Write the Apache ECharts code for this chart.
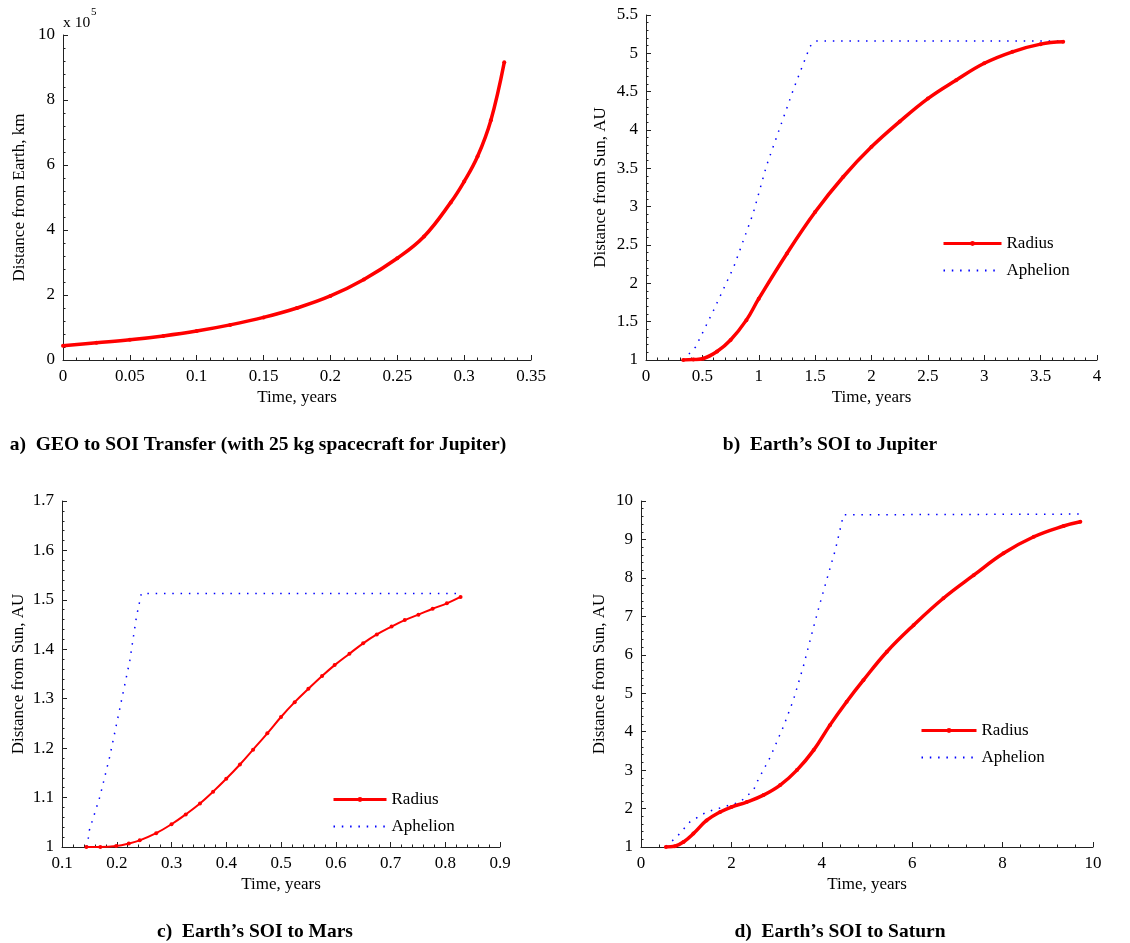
<!DOCTYPE html>
<html>
<head>
<meta charset="utf-8">
<script src="https://cdn.jsdelivr.net/npm/echarts@6/dist/echarts.min.js"></script>
<style>
  html, body { margin: 0; padding: 0; background: #fff; }
  #chart { width: 1130px; height: 943px; }
</style>
</head>
<body>
<div id="chart"></div>
<script>
// a) GEO to SOI transfer, distance from Earth in km
const geoTime = [0, 0.025, 0.05, 0.075, 0.1, 0.125, 0.15, 0.175, 0.2, 0.225, 0.25, 0.27, 0.29, 0.3, 0.31, 0.32, 0.33];
const geoDist = [44000, 53000, 62000, 74000, 89000, 108000, 131000, 160000, 197000, 248000, 313000, 380000, 485000, 549000, 626000, 738000, 916000];

// b) Earth's SOI to Jupiter, AU
const jupTime = [0.33, 0.42, 0.51, 0.63, 0.75, 0.89, 1.0, 1.25, 1.5, 1.75, 2.0, 2.25, 2.5, 2.75, 3.0, 3.25, 3.5, 3.7];
const jupRadius = [1.0, 1.005, 1.02, 1.11, 1.26, 1.52, 1.8, 2.39, 2.93, 3.39, 3.78, 4.11, 4.41, 4.65, 4.87, 5.02, 5.12, 5.15];
const jupAphTime = [0.33, 0.44, 0.6, 0.78, 0.95, 1.07, 1.19, 1.31, 1.455, 1.5, 3.7];
const jupAphelion = [1.0, 1.17, 1.65, 2.22, 2.91, 3.54, 4.04, 4.54, 5.09, 5.16, 5.16];

// c) Earth's SOI to Mars, AU
const marsTime = [0.1445, 0.17, 0.199, 0.222, 0.242, 0.272, 0.3, 0.326, 0.352, 0.376, 0.4, 0.425, 0.449, 0.475, 0.5, 0.525, 0.55, 0.575, 0.598, 0.625, 0.65, 0.675, 0.702, 0.726, 0.751, 0.777, 0.803, 0.828];
const marsRadius = [1.0, 1.0, 1.002, 1.007, 1.0135, 1.028, 1.046, 1.066, 1.088, 1.112, 1.138, 1.167, 1.197, 1.23, 1.263, 1.293, 1.32, 1.346, 1.368, 1.391, 1.412, 1.43, 1.446, 1.459, 1.47, 1.482, 1.493, 1.506];
const marsAphTime = [0.146, 0.15, 0.169, 0.187, 0.205, 0.224, 0.236, 0.245, 0.83];
const marsAphelion = [1.0, 1.034, 1.101, 1.182, 1.277, 1.378, 1.466, 1.513, 1.513];

// d) Earth's SOI to Saturn, AU
const satTime = [0.55, 0.75, 0.94, 1.16, 1.45, 1.75, 2.0, 2.34, 2.71, 3.08, 3.45, 3.82, 4.18, 4.55, 4.92, 5.44, 6.03, 6.69, 7.36, 8.02, 8.69, 9.35, 9.72];
const satRadius = [1.0, 1.02, 1.13, 1.35, 1.69, 1.91, 2.04, 2.17, 2.35, 2.61, 3.0, 3.52, 4.17, 4.78, 5.34, 6.08, 6.77, 7.47, 8.07, 8.64, 9.07, 9.35, 9.46];
const satAphTime = [0.55, 0.79, 1.08, 1.45, 1.82, 2.19, 2.49, 2.58, 2.86, 3.15, 3.37, 3.59, 3.82, 3.96, 4.15, 4.3, 4.48, 9.7];
const satAphelion = [1.02, 1.26, 1.65, 1.91, 2.04, 2.17, 2.48, 2.72, 3.34, 4.13, 4.82, 5.69, 6.73, 7.34, 8.12, 8.73, 9.64, 9.66];

const panelTitles = [
  'a)  GEO to SOI Transfer (with 25 kg spacecraft for Jupiter)',
  'b)  Earth\u2019s SOI to Jupiter',
  'c)  Earth\u2019s SOI to Mars',
  'd)  Earth\u2019s SOI to Saturn'
];

const FONT = '"Liberation Serif", "DejaVu Serif", serif';
const pairs = (xs, ys) => xs.map((x, i) => [x, ys[i]]);

function xAx(gi, min, max, interval) {
  return {
    type: 'value', gridIndex: gi, min: min, max: max, interval: interval,
    name: 'Time, years', nameLocation: 'middle', nameGap: 29,
    nameTextStyle: { fontFamily: FONT, fontSize: 17, color: '#000' },
    axisLine: { lineStyle: { color: '#222', width: 1 } },
    axisTick: { inside: true, length: 5, lineStyle: { color: '#222' } },
    minorTick: { show: true, splitNumber: 5, length: 2.5, lineStyle: { color: '#222' } },
    splitLine: { show: false },
    axisLabel: { fontFamily: FONT, fontSize: 17, color: '#000', margin: 8 }
  };
}

function yAx(gi, min, max, interval, name, gap, fmt) {
  return {
    type: 'value', gridIndex: gi, min: min, max: max, interval: interval,
    name: name, nameLocation: 'middle', nameGap: gap,
    nameTextStyle: { fontFamily: FONT, fontSize: 17, color: '#000' },
    axisLine: { show: true, lineStyle: { color: '#222', width: 1 } },
    axisTick: { show: true, inside: true, length: 5, lineStyle: { color: '#222' } },
    minorTick: { show: true, splitNumber: 5, length: 2.5, lineStyle: { color: '#222' } },
    splitLine: { show: false },
    axisLabel: { fontFamily: FONT, fontSize: 17, color: '#000', margin: 8, formatter: fmt }
  };
}

function radius(gi, data, lw, sym) {
  return {
    name: 'Radius', type: 'line', xAxisIndex: gi, yAxisIndex: gi,
    data: data, smooth: 0.4,
    symbol: 'circle', symbolSize: sym, showSymbol: true,
    itemStyle: { color: '#ff0000' },
    lineStyle: { color: '#ff0000', width: lw },
    z: 3, animation: false
  };
}

function aphelion(gi, data) {
  return {
    name: 'Aphelion', type: 'line', xAxisIndex: gi, yAxisIndex: gi,
    data: data, smooth: false, symbol: 'none',
    itemStyle: { color: '#0000ff' },
    lineStyle: { color: '#0000ff', width: 1.5, type: [1.5, 6.8] },
    z: 2, animation: false
  };
}

function legendAt(left, top, w) {
  return {
    left: left, top: top, orient: 'vertical', padding: 0,
    itemWidth: w, itemHeight: 6, itemGap: 10,
    data: [
      { name: 'Radius', lineStyle: { width: 3 } },
      { name: 'Aphelion', itemStyle: { color: 'rgba(0,0,0,0)', borderWidth: 0 } }
    ],
    textStyle: { fontFamily: FONT, fontSize: 17, color: '#000' },
    selectedMode: false
  };
}

const titlePos = [[258, 435], [830, 435], [255, 922], [840, 922]];

const chart = echarts.init(document.getElementById('chart'));
chart.setOption({
  backgroundColor: '#fff',
  animation: false,
  title: panelTitles.map((t, i) => ({
    text: t, left: titlePos[i][0], top: titlePos[i][1], textAlign: 'center', padding: 0,
    textStyle: { fontFamily: FONT, fontSize: 19.5, fontWeight: 'bold', color: '#000' }
  })),
  graphic: [
    { type: 'text', left: 63, top: 15, style: { text: 'x 10', font: '15.5px ' + FONT, fill: '#000' } },
    { type: 'text', left: 91, top: 7, style: { text: '5', font: '11px ' + FONT, fill: '#000' } }
  ],
  grid: [
    { left: 63, top: 35, width: 468, height: 325 },
    { left: 646, top: 15, width: 451, height: 345 },
    { left: 62, top: 501, width: 438, height: 346 },
    { left: 641, top: 501, width: 452, height: 346 }
  ],
  xAxis: [
    xAx(0, 0, 0.35, 0.05),
    xAx(1, 0, 4, 0.5),
    xAx(2, 0.1, 0.9, 0.1),
    xAx(3, 0, 10, 2)
  ],
  yAxis: [
    yAx(0, 0, 1000000, 200000, 'Distance from Earth, km', 35, v => String(Math.round(v / 1e5))),
    yAx(1, 1, 5.5, 0.5, 'Distance from Sun, AU', 37),
    yAx(2, 1, 1.7, 0.1, 'Distance from Sun, AU', 35),
    yAx(3, 1, 10, 1, 'Distance from Sun, AU', 33)
  ],
  legend: [
    legendAt(942, 235, 58),
    legendAt(332, 791, 53),
    legendAt(920, 722, 55)
  ],
  series: [
    radius(0, pairs(geoTime, geoDist), 3.5, 4),
    aphelion(1, pairs(jupAphTime, jupAphelion)),
    radius(1, pairs(jupTime, jupRadius), 3.5, 4),
    aphelion(2, pairs(marsAphTime, marsAphelion)),
    radius(2, pairs(marsTime, marsRadius), 2, 4),
    aphelion(3, pairs(satAphTime, satAphelion)),
    radius(3, pairs(satTime, satRadius), 3.5, 4)
  ]
});
</script>
</body>
</html>
